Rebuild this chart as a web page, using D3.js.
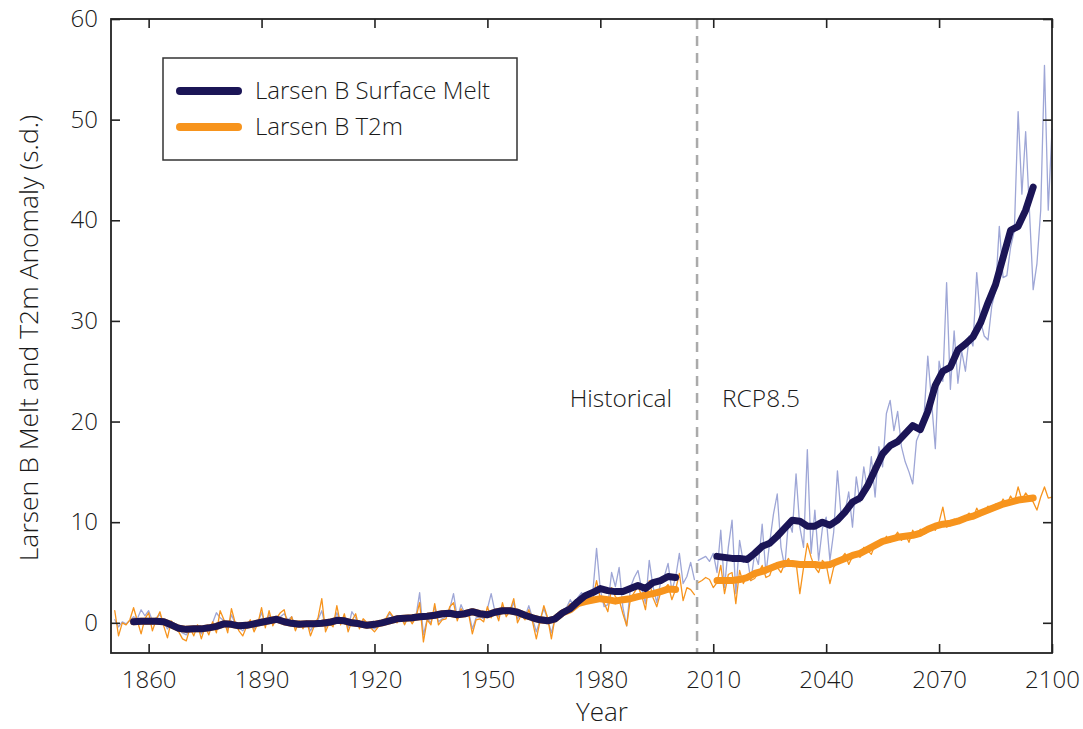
<!DOCTYPE html>
<html>
<head>
<meta charset="utf-8">
<script src="https://cdn.jsdelivr.net/npm/d3@7"></script>
<style>
  body { margin: 0; background: #fff; }
  svg text { font-family: "Open Sans", "DejaVu Sans", sans-serif; font-weight: 350; fill: #1a1a1a; }
</style>
</head>
<body>
<svg width="1083" height="729"></svg>
<script>
// annual anomalies (s.d.), historical run 1851-2005
const histYears = d3.range(1851, 2006)
const histT2m = [
  1.2, -1.3, 0.0, -0.2, 0.3, 1.5, 0.2, -1.1, 0.4, 1.0,
  -0.8, 0.3, 1.1, -0.3, -1.5, 0.2, -0.6, -0.9, -1.6, -1.8,
  -0.5, -1.3, -0.2, -1.6, -0.4, -1.2, 0.1, -1.0, 1.2, 0.3,
  -1.0, 1.4, 0.0, -0.8, -1.3, -0.4, 0.3, -0.9, -0.1, 1.5,
  -0.5, 1.2, -0.3, 0.5, 1.0, 1.3, -0.2, 0.6, -0.8, 0.2,
  -0.6, 0.2, -1.3, -0.3, 0.5, 2.4, -0.9, 0.0, -0.4, 1.7,
  -0.2, 0.9, -0.9, 0.2, 0.9, -0.6, 0.4, 0.0, -0.5, -0.9,
  -0.4, 0.2, 0.4, 1.1, 0.6, 0.0, 0.6, -0.2, 0.6, -0.1,
  0.5, 2.0, -1.9, 0.3, -0.2, 1.9, -0.2, 0.3, 0.4, 1.6,
  2.0, 0.2, 1.4, 0.8, 0.9, -1.1, 0.3, 0.4, 0.1, 1.6,
  0.5, 1.3, 0.2, 2.0, 0.6, 1.2, 2.4, 0.0, 0.8, 0.3,
  1.3, 0.1, -1.6, 0.2, 1.7, 0.5, -1.6, 0.6, 0.8, 0.9,
  1.4, 1.9, 1.3, 2.2, 2.6, 2.0, 2.3, 2.4, 4.2, 2.4,
  2.0, 1.1, 3.5, 2.6, 2.3, 0.9, -0.3, 2.4, 3.0, 3.6,
  2.7, 1.3, 4.2, 2.5, 1.6, 3.0, 3.4, 3.8, 2.3, 3.3,
  4.9, 2.2, 3.5, 3.3, 2.8
]
const histMelt = [
  0.3, -0.4, 0.1, -0.1, 0.2, 0.6, 0.4, 1.3, 0.7, 1.2,
  0.2, 0.5, 0.8, 0.1, -0.6, 0.0, -0.4, -0.7, -1.0, -1.2,
  -0.6, -0.9, -0.3, -1.1, -0.6, -0.8, 0.0, 1.0, 0.5, 0.2,
  -0.6, 0.8, -0.1, -0.5, -0.8, -0.3, 0.2, -0.6, 0.0, 1.0,
  -0.2, 0.8, -0.2, 0.4, 0.6, 0.9, 0.3, 0.6, -0.4, 0.0,
  -0.4, 0.1, -0.8, -0.1, 0.3, 1.2, -0.5, 0.1, -0.2, 1.0,
  0.1, 0.6, -0.5, 1.1, 0.5, -0.3, 0.3, -0.1, -0.5, -0.6,
  -0.3, 0.1, 0.3, 0.9, 0.5, 0.1, 0.5, 0.0, 0.5, 0.1,
  0.6, 3.0, -1.2, 0.4, 0.0, 1.6, 0.1, 0.4, 0.6, 1.4,
  2.9, 0.5, 1.8, 0.9, 1.1, -0.6, 0.5, 0.6, 0.4, 1.4,
  2.9, 1.1, 0.6, 1.6, 0.9, 1.1, 2.0, 0.4, 0.9, 0.6,
  1.7, 0.4, -0.9, 0.3, 1.4, 0.4, -1.0, 0.5, 0.9, 1.0,
  1.5, 2.3, 1.6, 2.5, 3.0, 2.4, 2.8, 3.0, 7.4, 3.3,
  1.6, 1.8, 5.0, 3.6, 5.5, 1.5, -0.3, 3.5, 4.5, 5.2,
  3.4, 1.9, 6.2, 3.6, 2.0, 4.0, 4.6, 5.9, 3.2, 4.5,
  6.9, 3.9, 4.6, 6.0, 4.3
]

// RCP8.5 run 2006-2100
const rcpYears = d3.range(2006, 2101)
const rcpT2m = [
  4.0, 4.2, 4.5, 4.3, 3.5, 4.0, 5.7, 2.9, 4.8, 5.0,
  1.9, 5.2, 3.9, 4.6, 4.2, 4.4, 5.0, 5.7, 4.5, 4.7,
  5.8, 5.5, 5.0, 5.9, 6.4, 5.6, 6.0, 2.9, 5.5, 7.9,
  6.5, 5.5, 5.0, 6.2, 5.8, 3.9, 5.5, 6.0, 6.4, 6.9,
  5.8, 6.6, 7.0, 6.5, 7.5, 7.2, 6.8, 7.8, 8.0, 7.8,
  8.6, 8.0, 8.5, 9.0, 8.2, 8.8, 8.0, 9.2, 8.5, 9.3,
  8.8, 9.0, 9.6, 9.2, 10.0, 11.5, 9.5, 9.8, 10.3, 10.1,
  10.0, 10.6, 10.9, 10.3, 11.4, 10.7, 11.0, 11.6, 11.2, 11.8,
  11.5, 12.3, 11.8, 12.6, 12.0, 13.5, 12.2, 12.9, 12.4, 12.0,
  11.2, 12.5, 13.5, 12.4, 12.5
]
const rcpMelt = [
  6.2, 6.4, 6.6, 6.1, 6.9, 5.0, 9.2, 3.5, 7.5, 10.2,
  2.9, 8.2, 6.0, 6.6, 4.2, 6.9, 5.8, 9.8, 4.9, 8.0,
  10.8, 12.8, 7.5, 5.5, 10.2, 9.0, 14.8, 9.5, 7.5, 17.2,
  6.9, 11.2, 6.2, 9.4, 10.5, 6.2, 9.0, 15.1, 10.5, 11.0,
  13.0, 9.5, 14.5, 12.0, 15.5, 13.1, 16.5, 12.5, 17.5, 15.5,
  20.8, 22.1, 19.1, 21.0, 17.5, 16.0, 15.0, 13.8, 18.1, 19.0,
  20.5, 26.5, 22.0, 17.3, 26.0, 24.0, 33.8, 23.2, 29.0, 23.8,
  27.0, 25.0, 28.5, 27.5, 34.8, 30.0, 28.5, 28.1, 31.5, 33.0,
  39.4, 34.3, 34.5, 37.3, 39.0, 50.8, 42.6, 48.8, 41.0, 33.1,
  35.7, 41.0, 55.4, 41.0, 49.0
]

// smoothed series (every second year)
const histSmoothYears = d3.range(1856, 2001, 2)
const histMeltSmooth = [
  0.1, 0.15, 0.15, 0.15, 0.1, -0.2, -0.55, -0.65, -0.6, -0.6,
  -0.5, -0.35, -0.1, -0.15, -0.3, -0.25, -0.1, 0.05, 0.2, 0.35,
  0.1, -0.05, -0.15, -0.1, -0.1, -0.05, 0.05, 0.25, 0.2, 0.0,
  -0.1, -0.25, -0.15, 0.0, 0.2, 0.4, 0.45, 0.5, 0.6, 0.65,
  0.75, 0.9, 0.95, 0.8, 0.9, 1.1, 0.9, 0.8, 1.05, 1.2,
  1.2, 1.05, 0.75, 0.5, 0.3, 0.2, 0.4, 1.0, 1.4, 2.1,
  2.7, 3.0, 3.4, 3.2, 3.1, 3.1, 3.4, 3.7, 3.4, 4.0,
  4.2, 4.6, 4.5
]
const histT2mSmooth = [
  0.1, 0.15, 0.15, 0.15, 0.1, -0.2, -0.55, -0.65, -0.6, -0.6,
  -0.5, -0.35, -0.1, -0.15, -0.3, -0.25, -0.1, 0.05, 0.2, 0.35,
  0.1, -0.05, -0.15, -0.1, -0.1, -0.05, 0.05, 0.25, 0.2, 0.0,
  -0.1, -0.25, -0.15, 0.0, 0.2, 0.4, 0.45, 0.5, 0.6, 0.65,
  0.75, 0.9, 0.95, 0.8, 0.9, 1.1, 0.9, 0.8, 1.05, 1.2,
  1.2, 1.05, 0.75, 0.5, 0.3, 0.2, 0.4, 1.0, 1.3, 1.9,
  2.1, 2.25, 2.4, 2.3, 2.15, 2.3, 2.4, 2.6, 2.75, 2.9,
  3.1, 3.35, 3.3
]
const rcpSmoothYears = d3.range(2011, 2096, 2)
const rcpMeltSmooth = [
  6.6, 6.5, 6.4, 6.4, 6.3, 6.9, 7.6, 7.9, 8.6, 9.4,
  10.2, 10.1, 9.6, 9.6, 10.0, 9.7, 10.2, 11.0, 12.0, 12.4,
  13.6, 15.2, 16.8, 17.6, 18.0, 18.8, 19.6, 19.2, 21.0, 23.6,
  25.0, 25.4, 27.1, 27.7, 28.4, 29.8, 31.8, 33.6, 36.3, 39.0,
  39.4, 41.0, 43.3
]
const rcpT2mSmooth = [
  4.2, 4.2, 4.2, 4.3, 4.5, 4.9, 5.1, 5.4, 5.7, 5.9,
  5.9, 5.8, 5.8, 5.8, 5.7, 5.8, 6.1, 6.4, 6.7, 6.9,
  7.3, 7.7, 8.1, 8.3, 8.5, 8.6, 8.7, 8.9, 9.3, 9.6,
  9.8, 9.9, 10.1, 10.4, 10.6, 10.9, 11.2, 11.5, 11.8, 12.0,
  12.2, 12.3, 12.4
]

const xTicks = [1860, 1890, 1920, 1950, 1980, 2010, 2040, 2070, 2100]
const yTicks = [0, 10, 20, 30, 40, 50, 60]
const splitYear = 2005.7
const seriesNames = ['Larsen B Surface Melt', 'Larsen B T2m']

const meltDark = '#1b1556'
const meltLight = '#9ea6d6'
const t2mColor = '#f7941d'

const svg = d3.select('svg')
svg.append('rect').attr('width', 1083).attr('height', 729).attr('fill', '#fff')

const x = d3.scaleLinear().domain([1850, 2100]).range([111, 1052])
const y = d3.scaleLinear().domain([-3, 60]).range([653, 19])

const line = d3.line().x(d => x(d[0])).y(d => y(d[1]))
const pairs = (years, vals) => years.map((yr, i) => [yr, vals[i]])

const plot = svg.append('g')

function drawLine(data, color, width) {
  plot.append('path')
    .datum(data)
    .attr('fill', 'none')
    .attr('stroke', color)
    .attr('stroke-width', width)
    .attr('stroke-linejoin', 'round')
    .attr('stroke-linecap', 'round')
    .attr('d', line)
}

// thin annual lines
drawLine(pairs(histYears, histMelt), meltLight, 1.3)
drawLine(pairs(rcpYears, rcpMelt), meltLight, 1.3)
drawLine(pairs(histYears, histT2m), t2mColor, 1.3)
drawLine(pairs(rcpYears, rcpT2m), t2mColor, 1.3)
// thick smoothed lines
drawLine(pairs(histSmoothYears, histT2mSmooth), t2mColor, 7)
drawLine(pairs(rcpSmoothYears, rcpT2mSmooth), t2mColor, 7)
drawLine(pairs(histSmoothYears, histMeltSmooth), meltDark, 7)
drawLine(pairs(rcpSmoothYears, rcpMeltSmooth), meltDark, 7)

// historical / scenario split
svg.append('line')
  .attr('x1', x(splitYear)).attr('x2', x(splitYear))
  .attr('y1', y(60)).attr('y2', y(-3))
  .attr('stroke', '#aaa')
  .attr('stroke-width', 2.5)
  .attr('stroke-dasharray', '10,7')

svg.append('text')
  .attr('x', x(splitYear) - 25).attr('y', y(21.4))
  .attr('text-anchor', 'end')
  .style('font-size', '24.5px')
  .text('Historical')
svg.append('text')
  .attr('x', x(splitYear) + 25).attr('y', y(21.4))
  .attr('text-anchor', 'start')
  .style('font-size', '24.5px')
  .text('RCP8.5')

// axes, ticks pointing inward on all four sides
const axisStyle = g => {
  g.select('.domain').remove()
  g.selectAll('line').attr('stroke', '#222').attr('stroke-width', 1.6)
  g.selectAll('text').style('font-size', '24px').attr('fill', '#1a1a1a')
}
svg.append('g').attr('transform', `translate(0,${y(-3)})`)
  .call(d3.axisBottom(x).tickValues(xTicks).tickFormat(d3.format('d')).tickSizeInner(-9).tickPadding(18))
  .call(axisStyle)
svg.append('g').attr('transform', `translate(0,${y(60)})`)
  .call(d3.axisTop(x).tickValues(xTicks).tickSizeInner(-9).tickFormat(''))
  .call(axisStyle)
svg.append('g').attr('transform', `translate(${x(1850)},0)`)
  .call(d3.axisLeft(y).tickValues(yTicks).tickSizeInner(-9).tickPadding(13))
  .call(axisStyle)
svg.append('g').attr('transform', `translate(${x(2100)},0)`)
  .call(d3.axisRight(y).tickValues(yTicks).tickSizeInner(-9).tickFormat(''))
  .call(axisStyle)

svg.append('rect')
  .attr('x', x(1850)).attr('y', y(60))
  .attr('width', x(2100) - x(1850)).attr('height', y(-3) - y(60))
  .attr('fill', 'none').attr('stroke', '#222').attr('stroke-width', 1.8)

// axis titles
svg.append('text')
  .attr('x', 602).attr('y', 721)
  .attr('text-anchor', 'middle')
  .style('font-size', '26px')
  .text('Year')
svg.append('text')
  .attr('transform', `translate(38,${(y(-3) + y(60)) / 2 + 2}) rotate(-90)`)
  .attr('text-anchor', 'middle')
  .style('font-size', '26.5px')
  .text('Larsen B Melt and T2m Anomaly (s.d.)')

// legend
const legend = svg.append('g')
legend.append('rect')
  .attr('x', 163).attr('y', 58).attr('width', 354).attr('height', 102)
  .attr('fill', '#fff').attr('stroke', '#333').attr('stroke-width', 1.5)
const legendColors = [meltDark, t2mColor]
seriesNames.forEach((name, i) => {
  const ly = 91 + i * 36
  legend.append('line')
    .attr('x1', 180).attr('x2', 238).attr('y1', ly).attr('y2', ly)
    .attr('stroke', legendColors[i]).attr('stroke-width', 8).attr('stroke-linecap', 'round')
  legend.append('text')
    .attr('x', 255).attr('y', ly).attr('dy', '0.35em')
    .style('font-size', '24px')
    .text(name)
})
</script>
</body>
</html>
